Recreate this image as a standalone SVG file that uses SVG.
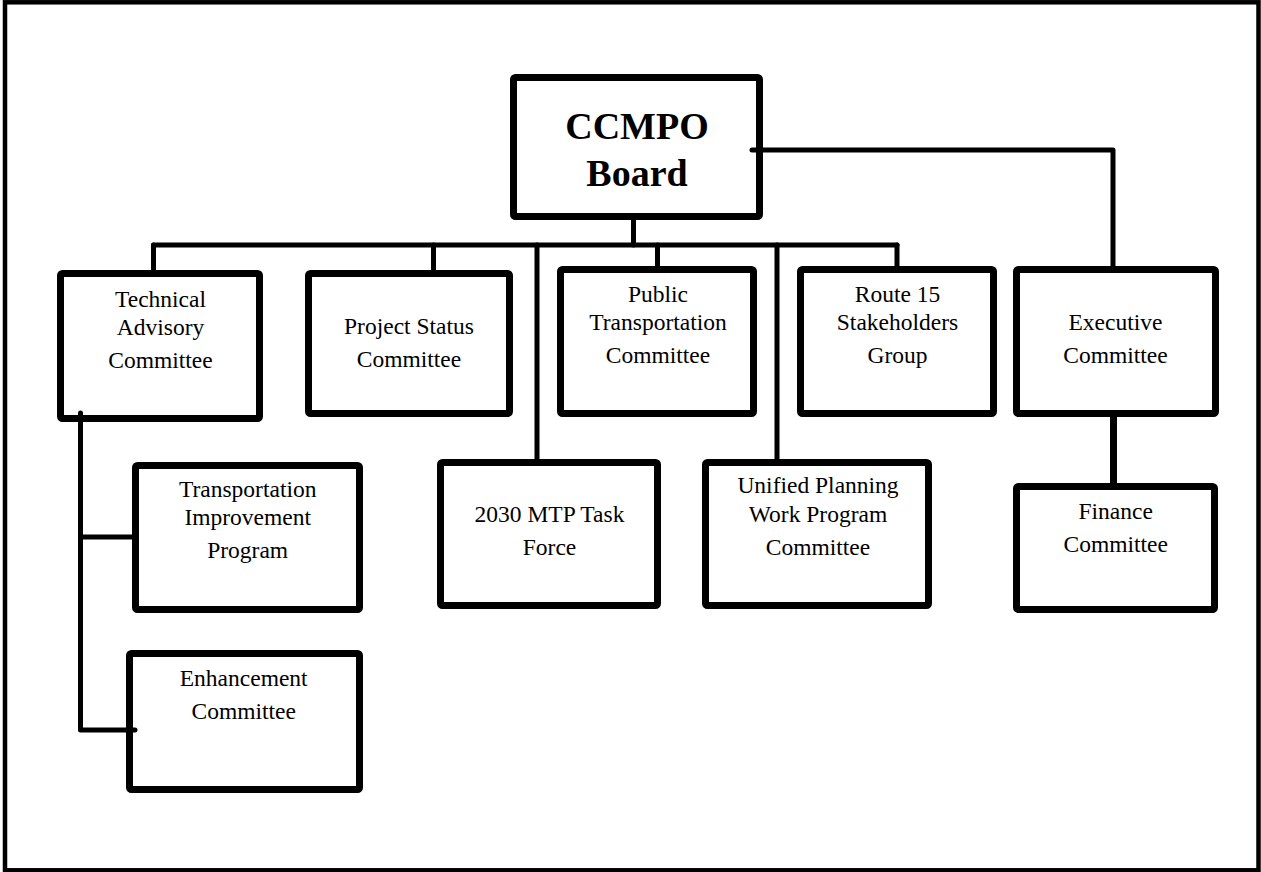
<svg xmlns="http://www.w3.org/2000/svg" width="1261" height="872" viewBox="0 0 1261 872">
<style>
.box{fill:#fff;stroke:#000;stroke-width:7;stroke-linejoin:round}
.t{font-family:"Liberation Serif","Times New Roman",serif;font-size:23.5px;fill:#000;text-anchor:middle}
.tb{font-family:"Liberation Serif","Times New Roman",serif;font-size:38px;font-weight:bold;fill:#000;text-anchor:middle}
.c{fill:none;stroke:#000;stroke-width:5;stroke-linecap:round;stroke-linejoin:round}
</style>
<rect x="0" y="0" width="1261" height="872" fill="#fff"/>
<rect x="5" y="2.3" width="1253.5" height="868" fill="none" stroke="#000" stroke-width="4.5"/>
<g id="ccmpo"><rect class="box" x="513.5" y="77.5" width="246" height="139" rx="2"/>
<text class="tb" x="637" y="139">CCMPO</text><text class="tb" x="637" y="186">Board</text></g>
<g id="tac"><rect class="box" x="60.5" y="273.5" width="199" height="145" rx="2"/>
<text class="t" x="160.5" y="306.7">Technical</text><text class="t" x="160.5" y="335">Advisory</text><text class="t" x="160.5" y="368.3">Committee</text></g>
<g id="project-status"><rect class="box" x="308.5" y="273.5" width="201" height="140" rx="2"/>
<text class="t" x="409" y="334">Project Status</text><text class="t" x="409" y="367">Committee</text></g>
<g id="public-transportation"><rect class="box" x="560.5" y="269.5" width="193" height="144" rx="2"/>
<text class="t" x="658" y="301.7">Public</text><text class="t" x="658" y="330">Transportation</text><text class="t" x="658" y="363.3">Committee</text></g>
<g id="route15"><rect class="box" x="800.5" y="269.5" width="193" height="144" rx="2"/>
<text class="t" x="897.5" y="301.7">Route 15</text><text class="t" x="897.5" y="330">Stakeholders</text><text class="t" x="897.5" y="363.3">Group</text></g>
<g id="executive"><rect class="box" x="1016.5" y="269.5" width="199" height="144" rx="2"/>
<text class="t" x="1115.5" y="330">Executive</text><text class="t" x="1115.5" y="363.3">Committee</text></g>
<g id="tip"><rect class="box" x="135.5" y="465.5" width="224" height="144" rx="2"/>
<text class="t" x="247.7" y="497.3">Transportation</text><text class="t" x="247.7" y="525">Improvement</text><text class="t" x="247.7" y="558">Program</text></g>
<g id="enhancement"><rect class="box" x="129.5" y="653.5" width="230" height="136" rx="2"/>
<text class="t" x="243.7" y="686">Enhancement</text><text class="t" x="243.7" y="719.3">Committee</text></g>
<g id="mtp"><rect class="box" x="440.5" y="462.5" width="217" height="143" rx="2"/>
<text class="t" x="549.5" y="521.7">2030 MTP Task</text><text class="t" x="549.5" y="555">Force</text></g>
<g id="upwp"><rect class="box" x="705.5" y="462.5" width="223" height="143" rx="2"/>
<text class="t" x="818" y="493.3">Unified Planning</text><text class="t" x="818" y="521.7">Work Program</text><text class="t" x="818" y="555">Committee</text></g>
<g id="finance"><rect class="box" x="1016.5" y="486.5" width="198" height="123" rx="2"/>
<text class="t" x="1115.7" y="519.3">Finance</text><text class="t" x="1115.7" y="551.7">Committee</text></g>
<g id="connectors">
<path class="c" d="M633.5 219 V245"/>
<path class="c" d="M153.5 245 H897"/>
<path class="c" d="M153.5 245 V271"/>
<path class="c" d="M433.5 245 V271"/>
<path class="c" d="M537 245 V460"/>
<path class="c" d="M657.5 245 V267"/>
<path class="c" d="M777 245 V460"/>
<path class="c" d="M897 245 V267"/>
<path class="c" d="M752 150 H1113 V267"/>
<path class="c" style="stroke-width:7" d="M1113.5 416 V484"/>
<path class="c" d="M80.5 413 V730 H135"/>
<path class="c" d="M80.5 537 H135"/>
</g>
</svg>
